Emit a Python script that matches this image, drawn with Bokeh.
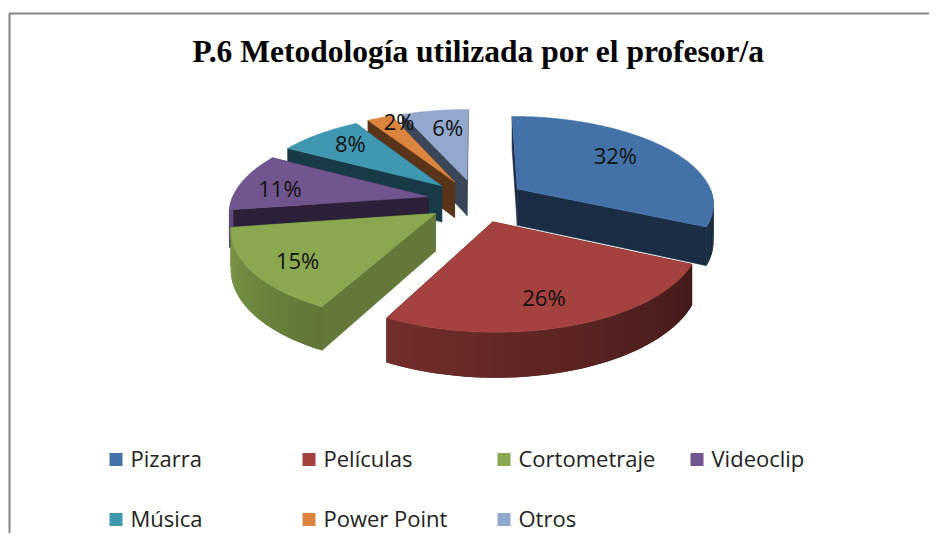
import numpy as np
from bokeh.plotting import figure
from bokeh.embed import file_html
from bokeh.resources import INLINE
from bokeh.core.properties import value

TITLE = "P.6 Metodología utilizada por el profesor/a"
categories = ["Pizarra", "Películas", "Cortometraje", "Videoclip", "Música", "Power Point", "Otros"]
shown_labels = ["32%", "26%", "15%", "11%", "8%", "2%", "6%"]
shares = [32, 25.6, 15, 10.5, 8.1, 2.4, 6.4]
top_colors = ["#4472a8", "#a5423f", "#8aa84f", "#70558f", "#3f97b0", "#db843d", "#92a8cd"]
cut_colors = ["#1b2d45", "#4a1c1a", "#64783a", "#2c2038", "#173a46", "#5a3418", "#3a4558"]
draw_order = [6, 5, 4, 3, 2, 0, 1]
label_nudge_x = [-8, -2, -13, -17, -3, -1, 4]
label_nudge_y = [-4, 6, 7, 2, -6, -14, -3]

# projection of the exploded pie
CX, CY, A, B, K, DEPTH, EXPLODE, LABEL_R = 476, 200, 197, 86.8, 0.15, 37, 0.25, 0.7


def project(u, v):
    s = 1 / (1 - K * v)
    return CX + A * u * s, CY + B * v * s, DEPTH * s


def hexrgb(c):
    return np.array([int(c[i:i + 2], 16) for i in (1, 3, 5)], dtype=float)


def tohex(rgb):
    return "#%02x%02x%02x" % tuple(int(round(min(255, x))) for x in rgb)


def wall_factor(deg):
    return float(np.interp(deg, [115, 208, 260], [0.40, 0.70, 0.90]))


p = figure(width=929, height=533, x_range=(0, 929), y_range=(533, 0),
           output_backend="svg", toolbar_location=None, min_border=0,
           outline_line_color=None, background_fill_color="white")
p.axis.visible = False
p.grid.visible = False

# chart frame
p.line([9, 9, 929], [533, 13, 13], line_color="#868686", line_width=2)

starts = np.cumsum([0] + shares[:-1]) * 3.6
ends = np.cumsum(shares) * 3.6
label_x, label_y, label_t = [], [], []

for i in draw_order:
    a0, a1 = starts[i], ends[i]
    mid = np.radians((a0 + a1) / 2)
    ou, ov = EXPLODE * np.sin(mid), -EXPLODE * np.cos(mid)
    deg = np.linspace(a0, a1, max(8, int(a1 - a0)))
    rad = np.radians(deg)
    rx, ry, rd = project(ou + np.sin(rad), ov - np.cos(rad))
    ax, ay, ad = project(ou, ov)

    # radial cut faces
    for j in (0, -1):
        p.patch([ax, rx[j], rx[j], ax], [ay, ry[j], ry[j] + rd[j], ay + ad],
                fill_color=cut_colors[i], line_color=cut_colors[i], line_width=0.5)

    # outer wall, shaded step by step; each step overlaps the next so no seams show
    xs, ys, cols = [], [], []
    for k in range(len(deg) - 1):
        if 90 <= (deg[k] + deg[k + 1]) / 2 <= 270:
            e = min(k + 2, len(deg) - 1)
            xs.append([rx[k], rx[e], rx[e], rx[k]])
            ys.append([ry[k], ry[e], ry[e] + rd[e], ry[k] + rd[k]])
            cols.append(tohex(hexrgb(top_colors[i]) * wall_factor((deg[k] + deg[k + 1]) / 2)))
    if xs:
        p.patches(xs, ys, fill_color=cols, line_color=None)

    # top surface
    p.patch([ax, *rx], [ay, *ry], fill_color=top_colors[i], line_color=top_colors[i], line_width=0.5)

    lu, lv = ou + LABEL_R * np.sin(mid), ov - LABEL_R * np.cos(mid)
    lx, ly, _ = project(lu, lv)
    label_x.append(lx + label_nudge_x[i])
    label_y.append(ly + label_nudge_y[i])
    label_t.append(shown_labels[i])

p.text(label_x, label_y, text=label_t, text_font=value("Open Sans"), text_font_size="22px",
       text_align="center", text_baseline="middle", text_color="#111111")

p.text([478], [51], text=[TITLE], text_font=value("Liberation Serif"), text_font_size="31.5px",
       text_font_style="bold", text_align="center", text_baseline="middle", text_color="#000000")

# legend, four columns and two rows
cols_x = [109, 302, 497, 690]
rows_y = [459, 519]
mx = [cols_x[i % 4] for i in range(len(categories))]
my = [rows_y[i // 4] for i in range(len(categories))]
p.rect([x + 6.5 for x in mx], my, width=13, height=13, fill_color=top_colors, line_color=None)
p.text([x + 21 for x in mx], [y - 2 for y in my], text=categories, text_font=value("Open Sans"),
       text_font_size="22px", text_align="left", text_baseline="middle", text_color="#222222")

open("out.html", "w").write(file_html(p, INLINE))
